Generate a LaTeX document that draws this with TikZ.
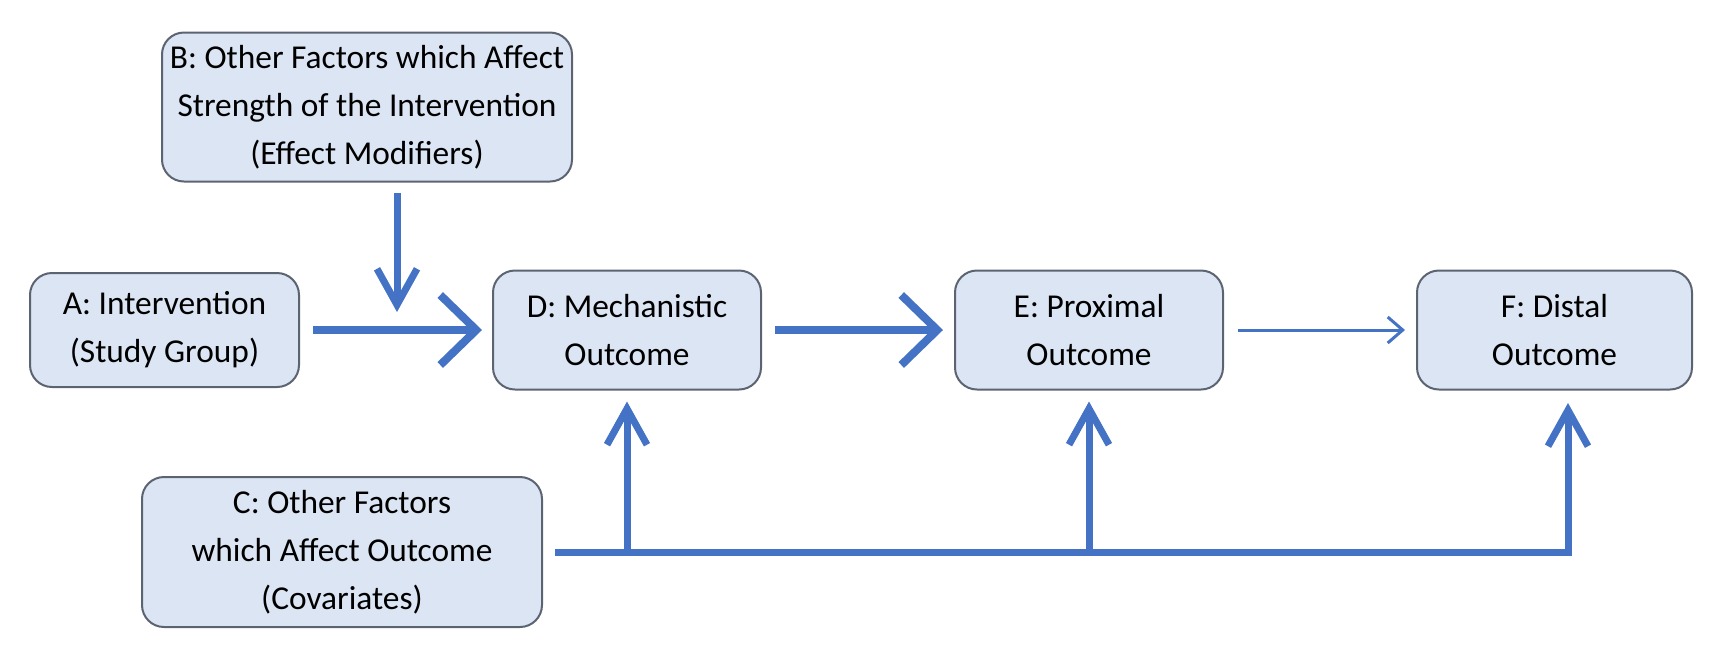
\documentclass[tikz,border=0pt]{standalone}
\usepackage{fontspec}
\setmainfont{Carlito}
\usetikzlibrary{arrows.meta}
\definecolor{boxfill}{RGB}{220,229,243}
\definecolor{boxline}{RGB}{92,100,114}
\definecolor{arrowblue}{RGB}{68,114,196}
\begin{document}
\begin{tikzpicture}[font=\fontsize{9.5}{13.6}\selectfont, line join=miter,
	box/.style={draw=boxline, line width=0.2mm, fill=boxfill, rounded corners=2.2mm, align=center, inner sep=0pt},
	bigarrow/.style={draw=arrowblue, line width=0.8mm, -{Straight Barb[length=3.6mm,width=7mm]}},
	thinarrow/.style={draw=arrowblue, line width=0.3mm, -{Straight Barb[length=1.5mm,width=2.6mm]}},
	uparrow/.style={draw=arrowblue, line width=0.7mm, -{Straight Barb[length=3.6mm,width=4mm]}}]
					\useasboundingbox (0,0) rectangle (17.14,-6.6);
					% boxes
					\node (b) at (3.67,-1.07) [box, minimum width=4.1cm, minimum height=1.49cm] {B: Other Factors which Affect\\Strength of the Intervention\\(Effect Modifiers)};
					\node (a) at (1.645,-3.3) [box, minimum width=2.69cm, minimum height=1.14cm] {A: Intervention\\(Study Group)};
					\node (d) at (6.27,-3.3) [box, minimum width=2.68cm, minimum height=1.19cm] {D: Mechanistic\\Outcome};
					\node (e) at (10.89,-3.3) [box, minimum width=2.68cm, minimum height=1.19cm] {E: Proximal\\Outcome};
					\node (f) at (15.545,-3.3) [box, minimum width=2.75cm, minimum height=1.19cm] {F: Distal\\Outcome};
					\node (c) at (3.42,-5.52) [box, minimum width=4cm, minimum height=1.5cm] {C: Other Factors\\which Affect Outcome\\(Covariates)};
					% main chain
					\draw[bigarrow] ([xshift=1.3mm]a.east) -- ([xshift=-1mm]d.west);
					\draw[bigarrow] ([xshift=1.3mm]d.east) -- ([xshift=-1.1mm]e.west);
					\draw[thinarrow] ([xshift=1.4mm]e.east) -- ([xshift=-1.1mm]f.west);
					% effect modifiers
					\coordinate (mod) at (3.97,-3.12);
					\draw[uparrow] ([yshift=-1mm]b.south -| mod) -- (mod);
					% covariates
					\coordinate (cf) at (15.68,-4.03);
					\draw[uparrow] ([xshift=1.2mm]c.east) -| (cf);
					\draw[uparrow] (c.east -| d.south) -- ([yshift=-1.1mm]d.south);
					\draw[uparrow] (c.east -| e.south) -- ([yshift=-1.1mm]e.south);
				\end{tikzpicture}
\end{document}
